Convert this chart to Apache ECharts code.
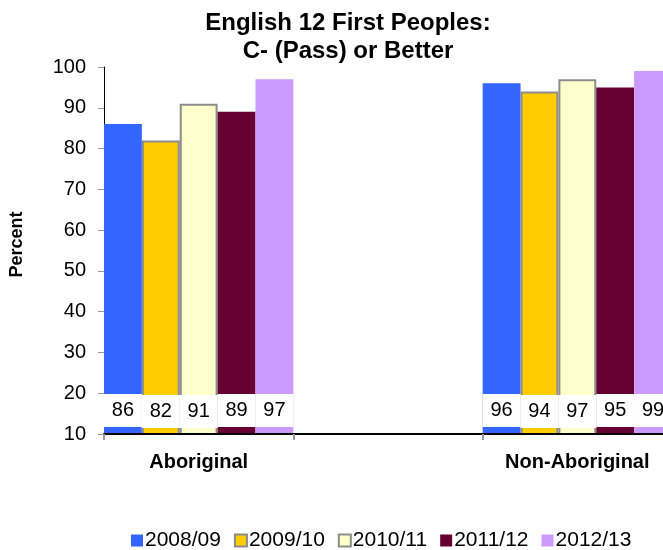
<!DOCTYPE html>
<html>
<head>
<meta charset="utf-8">
<script src="https://cdn.jsdelivr.net/npm/echarts@6/dist/echarts.min.js"></script>
<style>
  html, body { margin: 0; padding: 0; background: #fff; overflow: hidden; }
  /* a bit wider than the window: the last bar is cut at the right edge, as in the original */
  #chart { width: 672px; height: 550px; }
</style>
</head>
<body>
<div id="chart"></div>
<script>
const groups = ['Aboriginal', 'Non-Aboriginal'];
const years = ['2008/09', '2009/10', '2010/11', '2011/12', '2012/13'];
const v2008 = [86, 96];
const v2009 = [82, 94];
const v2010 = [91, 97];
const v2011 = [89, 95];
const v2012 = [97, 99];
const yTicks = [10, 20, 30, 40, 50, 60, 70, 80, 90, 100];

const FONT = '"Liberation Sans", Arial, sans-serif';
const colors = ['#3366FF', '#FFCC00', '#FFFFCC', '#660033', '#CC99FF'];
const borders = [null, '#8C8C8C', '#8C8C8C', null, null];

// empty slot between the two groups, like the excel layout
const cats = [groups[0], '', groups[1]];
const spread = arr => [arr[0], null, arr[1]];

const chart = echarts.init(document.getElementById('chart'));

const series = [v2008, v2009, v2010, v2011, v2012].map((vals, i) => ({
  name: years[i],
  type: 'bar',
  data: spread(vals),
  barGap: '0%',
  barCategoryGap: '0%',
  itemStyle: {
    color: colors[i],
    borderColor: borders[i] || colors[i],
    borderWidth: borders[i] ? 2 : 0
  },
  label: {
    show: true,
    position: 'insideBottom',
    distance: 7,
    backgroundColor: '#fff',
    width: 38,
    height: 33,
    lineHeight: 33,
    padding: 0,
    color: '#000',
    fontFamily: FONT,
    fontSize: 20
  }
}));

chart.setOption({
  animation: false,
  backgroundColor: '#fff',
  textStyle: { fontFamily: FONT },
  title: {
    text: 'English 12 First Peoples:\nC- (Pass) or Better',
    left: 343,
    top: 4,
    textAlign: 'center',
    textStyle: {
      fontFamily: FONT,
      fontWeight: 'bold',
      fontSize: 24,
      lineHeight: 28,
      color: '#000'
    }
  },
  legend: {
    top: 525,
    left: 126,
    itemWidth: 12,
    itemHeight: 12,
    itemGap: 13,
    icon: 'rect',
    textStyle: { fontFamily: FONT, fontSize: 21, color: '#000', padding: [0, 0, 0, -3] },
    data: years
  },
  grid: {
    left: 104,
    right: 0,
    top: 67,
    bottom: 116
  },
  xAxis: {
    type: 'category',
    data: cats,
    z: 5,
    axisLine: { lineStyle: { color: '#000', width: 2 } },
    axisTick: { show: true, length: 6, lineStyle: { color: '#999', width: 2 } },
    axisLabel: {
      margin: 18,
      fontFamily: FONT,
      fontWeight: 'bold',
      fontSize: 20,
      color: '#000'
    }
  },
  yAxis: {
    type: 'value',
    min: yTicks[0],
    max: yTicks[yTicks.length - 1],
    interval: 10,
    name: 'Percent',
    nameLocation: 'middle',
    nameGap: 78,
    nameRotate: 90,
    nameTextStyle: {
      fontFamily: FONT,
      fontWeight: 'bold',
      fontSize: 18,
      color: '#000',
      padding: [0, 0, 0, 12]
    },
    axisLine: { show: true, lineStyle: { color: '#000', width: 1 } },
    axisTick: { show: true, length: 6, lineStyle: { color: '#999' } },
    splitLine: { show: false },
    axisLabel: {
      margin: 18,
      fontFamily: FONT,
      fontSize: 20,
      color: '#000'
    }
  },
  series
});
</script>
</body>
</html>
